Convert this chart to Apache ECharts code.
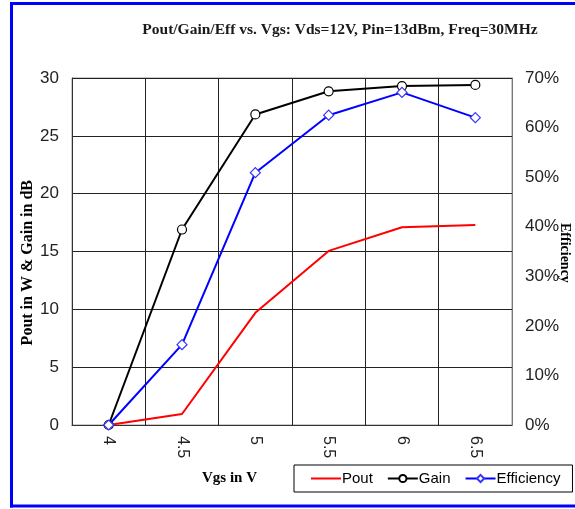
<!DOCTYPE html>
<html>
<head>
<meta charset="utf-8">
<script src="https://cdn.jsdelivr.net/npm/echarts@6/dist/echarts.min.js"></script>
<style>html,body{margin:0;padding:0;background:#fff;overflow:hidden}#c{width:575px;height:509px}</style>
</head>
<body>
<div id="c"></div>
<script>
var categories = ['4', '4.5', '5', '5.5', '6', '6.5'];
var pout = [0, 0.95, 9.7, 15.05, 17.1, 17.3];
var gain = [0, 16.9, 26.85, 28.85, 29.3, 29.4];
var efficiency = [0, 16.2, 50.9, 62.5, 67.1, 62.0];
var leftTicks = [0, 5, 10, 15, 20, 25, 30];
var rightTicks = [0, 10, 20, 30, 40, 50, 60, 70];

var chart = echarts.init(document.getElementById('c'), null, {renderer: 'canvas'});
var serif = '"Liberation Serif", "Times New Roman", serif';
var sans = '"Liberation Sans", Arial, sans-serif';
chart.setOption({
  animation: false,
  backgroundColor: '#fff',
  graphic: [
    {type: 'line', shape: {x1: 10, y1: 3.5, x2: 575, y2: 3.5}, style: {stroke: '#0000ff', lineWidth: 3}, z: 100},
    {type: 'line', shape: {x1: 11.5, y1: 2, x2: 11.5, y2: 507.5}, style: {stroke: '#0000ff', lineWidth: 3}, z: 100},
    {type: 'line', shape: {x1: 10, y1: 506, x2: 575, y2: 506}, style: {stroke: '#0000ff', lineWidth: 3}, z: 100},
    {type: 'text', x: 340, y: 30, style: {text: 'Pout/Gain/Eff vs. Vgs: Vds=12V, Pin=13dBm, Freq=30MHz', font: 'bold 15.5px ' + serif, fill: '#1a1a1a', align: 'center', verticalAlign: 'middle'}},
    {type: 'text', left: 20, top: 180, rotation: Math.PI / 2, style: {text: 'Pout in W & Gain in dB', font: 'bold 16px ' + serif, fill: '#000'}},
    {type: 'text', left: 202, top: 471, style: {text: 'Vgs in V', font: 'bold 15px ' + serif, fill: '#000'}},
    {type: 'text', left: 558, top: 223, rotation: -Math.PI / 2, style: {text: 'Efficiency', font: 'bold 14px ' + serif, fill: '#000'}}
  ],
  legend: {
    left: 294, top: 465,
    padding: [6, 12, 6, 16],
    itemGap: 14, itemWidth: 30, itemHeight: 9,
    borderColor: '#000', borderWidth: 1,
    textStyle: {fontFamily: sans, fontSize: 15, color: '#000', padding: [0, 0, 0, -4]},
    data: [{name: 'Pout', itemStyle: {opacity: 0}}, 'Gain', 'Efficiency']
  },
  grid: {left: 72, right: 63, top: 78, bottom: 84, show: true, borderColor: '#999', borderWidth: 1},
  xAxis: {
    type: 'category', data: categories, boundaryGap: true,
    axisLine: {lineStyle: {color: '#333', width: 1}},
    axisTick: {show: false},
    axisLabel: {rotate: -90, fontFamily: sans, fontSize: 16, color: '#222', margin: 11},
    splitLine: {show: true, lineStyle: {color: '#222', width: 1}}
  },
  yAxis: [
    {
      type: 'value', min: 0, max: 30, interval: 5,
      axisLine: {show: true, lineStyle: {color: '#333'}},
      axisTick: {show: false},
      axisLabel: {fontFamily: sans, fontSize: 17, color: '#222', margin: 13},
      splitLine: {show: true, lineStyle: {color: '#222', width: 1}}
    },
    {
      type: 'value', min: 0, max: 70, interval: 10, position: 'right',
      axisLine: {show: true, lineStyle: {color: '#777'}},
      axisTick: {show: false},
      axisLabel: {fontFamily: sans, fontSize: 17, color: '#222', margin: 13, formatter: '{value}%'},
      splitLine: {show: false}
    }
  ],
  series: [
    {name: 'Pout', type: 'line', data: pout, yAxisIndex: 0, symbol: 'none',
     lineStyle: {color: '#ff0000', width: 2}, itemStyle: {color: '#ff0000'}, z: 3},
    {name: 'Gain', type: 'line', data: gain, yAxisIndex: 0, symbol: 'circle', symbolSize: 9,
     lineStyle: {color: '#000', width: 2}, itemStyle: {color: '#fff', borderColor: '#000', borderWidth: 1.2}, z: 4},
    {name: 'Efficiency', type: 'line', data: efficiency, yAxisIndex: 1, symbol: 'diamond', symbolSize: 10,
     lineStyle: {color: '#0000ff', width: 2}, itemStyle: {color: '#fff', borderColor: '#3333ff', borderWidth: 1.2}, z: 5}
  ]
});
</script>
</body>
</html>
